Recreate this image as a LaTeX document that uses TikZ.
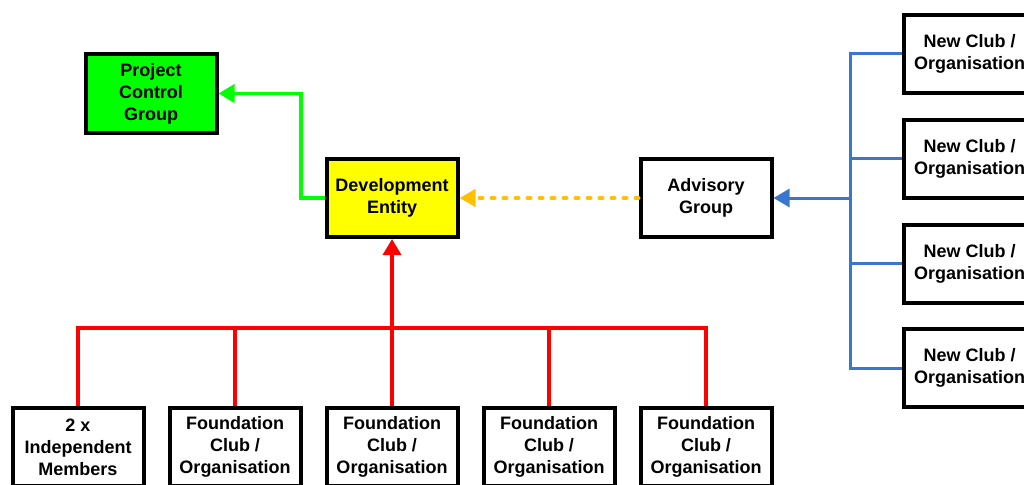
\documentclass[tikz,border=0pt]{standalone}
\usepackage{fontspec}
\setmainfont{Liberation Sans}
\usetikzlibrary{arrows.meta}

\definecolor{bargreen}{RGB}{0,255,0}
\definecolor{baryellow}{RGB}{255,255,0}
\definecolor{advorange}{RGB}{255,192,0}
\definecolor{newblue}{RGB}{58,118,206}

\begin{document}
\begin{tikzpicture}[x=1pt,y=-1pt,line width=3.5pt,line join=miter,
  box/.style={draw=black,line width=4pt,fill=white,minimum width=131pt,minimum height=78pt,
    inner sep=0pt,align=center,font=\fontsize{18}{22}\selectfont\bfseries},
  tip/.style={-{Triangle[length=16pt,width=18pt]}}]
  \useasboundingbox (0,0) rectangle (1024,484);
  \clip (0,0) rectangle (1024,484);

  % upper boxes
  \node[box,fill=bargreen] (pcg) at (151,93.5) {Project\\Control\\Group};
  \node[box,fill=baryellow] (dev) at (392,198) {Development\\Entity};
  \node[box] (adv) at (706,198) {Advisory\\Group};

  % new clubs on the right
  \node[box] (new1) at (969.5,54) {New Club /\\Organisation};
  \node[box] (new2) at (969.5,158.5) {New Club /\\Organisation};
  \node[box] (new3) at (969.5,263.5) {New Club /\\Organisation};
  \node[box] (new4) at (969.5,368) {New Club /\\Organisation};

  % members along the bottom
  \node[box] (ind) at (78,447) {2 x\\Independent\\Members};
  \node[box] (fnd1) at (235,447) {Foundation\\Club /\\Organisation};
  \node[box] (fnd2) at (392,447) {Foundation\\Club /\\Organisation};
  \node[box] (fnd3) at (549,447) {Foundation\\Club /\\Organisation};
  \node[box] (fnd4) at (706,447) {Foundation\\Club /\\Organisation};

  \coordinate (gbend) at (301,198);
  \coordinate (bbus) at (850,198);
  \coordinate (rbus) at (392,328);

  % green link to the control group
  \draw[bargreen,tip] (dev.west) -- (gbend) |- (pcg.east);

  % dotted orange link from the advisory group
  \draw[advorange,line width=4pt,dash pattern=on 3pt off 9pt,line cap=round,
    -{Triangle[length=16pt,width=17pt]}] (adv.west) -- (dev.east);

  % blue tree of new clubs
  \draw[newblue,line width=3pt] (new1.west) -| (bbus) |- (new4.west);
  \draw[newblue,line width=3pt] (new2.west) -- (new2.west -| bbus);
  \draw[newblue,line width=3pt] (new3.west) -- (new3.west -| bbus);
  \draw[newblue,line width=3pt,tip] (bbus) -- (adv.east);

  % red tree of foundation members
  \draw[red] (ind.north) |- (rbus) -| (fnd4.north);
  \draw[red] (fnd1.north) -- (fnd1.north |- rbus);
  \draw[red] (fnd3.north) -- (fnd3.north |- rbus);
  \draw[red,tip] (fnd2.north) -- (dev.south);
\end{tikzpicture}
\end{document}
